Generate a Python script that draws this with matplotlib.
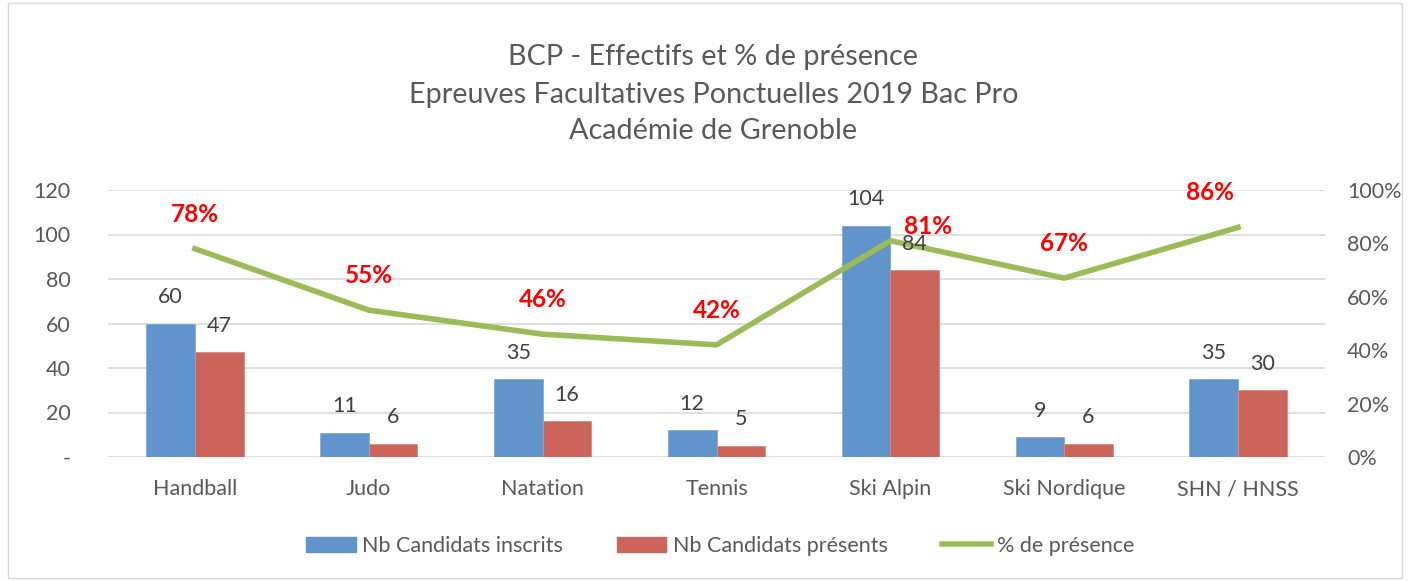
import matplotlib.pyplot as plt
import numpy as np
from matplotlib.patches import Rectangle
from matplotlib.lines import Line2D
from matplotlib.patches import Patch

plt.rcParams['font.family'] = ['Lato', 'DejaVu Sans']

sports = ['Handball', 'Judo', 'Natation', 'Tennis', 'Ski Alpin', 'Ski Nordique', 'SHN / HNSS']
inscrits = [60, 11, 35, 12, 104, 9, 35]
presents = [47, 6, 16, 5, 84, 6, 30]
presence = [0.78, 0.55, 0.46, 0.42, 0.81, 0.67, 0.86]
pct_labels = ['78%', '55%', '46%', '42%', '81%', '67%', '86%']

blue = '#6094CA'
red = '#CB645B'
green = '#9BBB59'
grey = '#595959'

fig = plt.figure(figsize=(14.1, 5.81), dpi=100)
fig.patches.append(Rectangle((0.006, 0.005), 0.988, 0.99, transform=fig.transFigure,
                             fill=False, edgecolor='#D9D9D9', linewidth=1))

ax = fig.add_axes([108 / 1410, 1 - 457 / 581, (1325 - 108) / 1410, 267 / 581])
ax2 = ax.twinx()

x = np.arange(len(sports))
w = 0.28
b1 = ax.bar(x - w / 2, inscrits, w, color=blue, edgecolor='#7FA9D6', linewidth=0.6, zorder=2)
b2 = ax.bar(x + w / 2, presents, w, color=red, edgecolor='#D98A83', linewidth=0.6, zorder=2)

ax.set_xlim(-0.5, len(sports) - 0.5)
ax.set_ylim(0, 120)
ax.set_yticks(range(0, 121, 20))
ax.set_yticklabels(['-'] + [str(v) for v in range(20, 121, 20)])
ax.set_xticks(x)
ax.set_xticklabels(sports)
ax.yaxis.grid(True, color='#D9D9D9', linewidth=1.2, zorder=0)
ax.set_axisbelow(True)
for s in ax.spines.values():
    s.set_visible(False)
ax.tick_params(axis='both', length=0, labelsize=15.5, labelcolor=grey)
ax.tick_params(axis='y', pad=27)
ax.tick_params(axis='x', pad=16)

ax2.plot(x, presence, color=green, linewidth=4, zorder=3)
ax2.set_ylim(0, 1.0)
ax2.set_yticks(np.arange(0, 1.01, 0.2))
ax2.set_yticklabels(['0%', '20%', '40%', '60%', '80%', '100%'])
for s in ax2.spines.values():
    s.set_visible(False)
ax2.tick_params(axis='y', length=0, labelsize=15.5, labelcolor=grey, pad=16)

# bar value labels, drawn above the line like in Excel
for rect, v in zip(list(b1) + list(b2), inscrits + presents):
    ax2.annotate(str(v), (rect.get_x() + rect.get_width() / 2, v), xycoords=ax.transData,
                 xytext=(0, 19), textcoords='offset points', ha='center', va='center',
                 fontsize=15.5, color='#404040', zorder=4)

offsets = [(0, 25), (0, 25), (0, 25), (0, 25), (27, 10), (0, 25), (-20, 25)]
for xi, p, lab, off in zip(x, presence, pct_labels, offsets):
    ax2.annotate(lab, (xi, p), xytext=off, textcoords='offset points', ha='center', va='center',
                 fontsize=17.5, fontweight='bold', color='#FF0000', zorder=5)

fig.text(0.506, 1 - 57 / 581, 'BCP - Effectifs et % de présence', ha='center', va='center', fontsize=20.7, color=grey)
fig.text(0.506, 1 - 95 / 581, 'Epreuves Facultatives Ponctuelles 2019 Bac Pro', ha='center', va='center', fontsize=20.7, color=grey)
fig.text(0.506, 1 - 131 / 581, 'Académie de Grenoble', ha='center', va='center', fontsize=20.7, color=grey)

handles = [Patch(color=blue), Patch(color=red), Line2D([], [], color=green, linewidth=4)]
fig.legend(handles, ['Nb Candidats inscrits', 'Nb Candidats présents', '% de présence'],
           loc='center', bbox_to_anchor=(0.511, 1 - 546 / 581), ncol=3, frameon=False,
           fontsize=15.5, labelcolor=grey, handlelength=2.3, handletextpad=0.3, columnspacing=2.5)

fig.savefig('out.png', dpi=100)
